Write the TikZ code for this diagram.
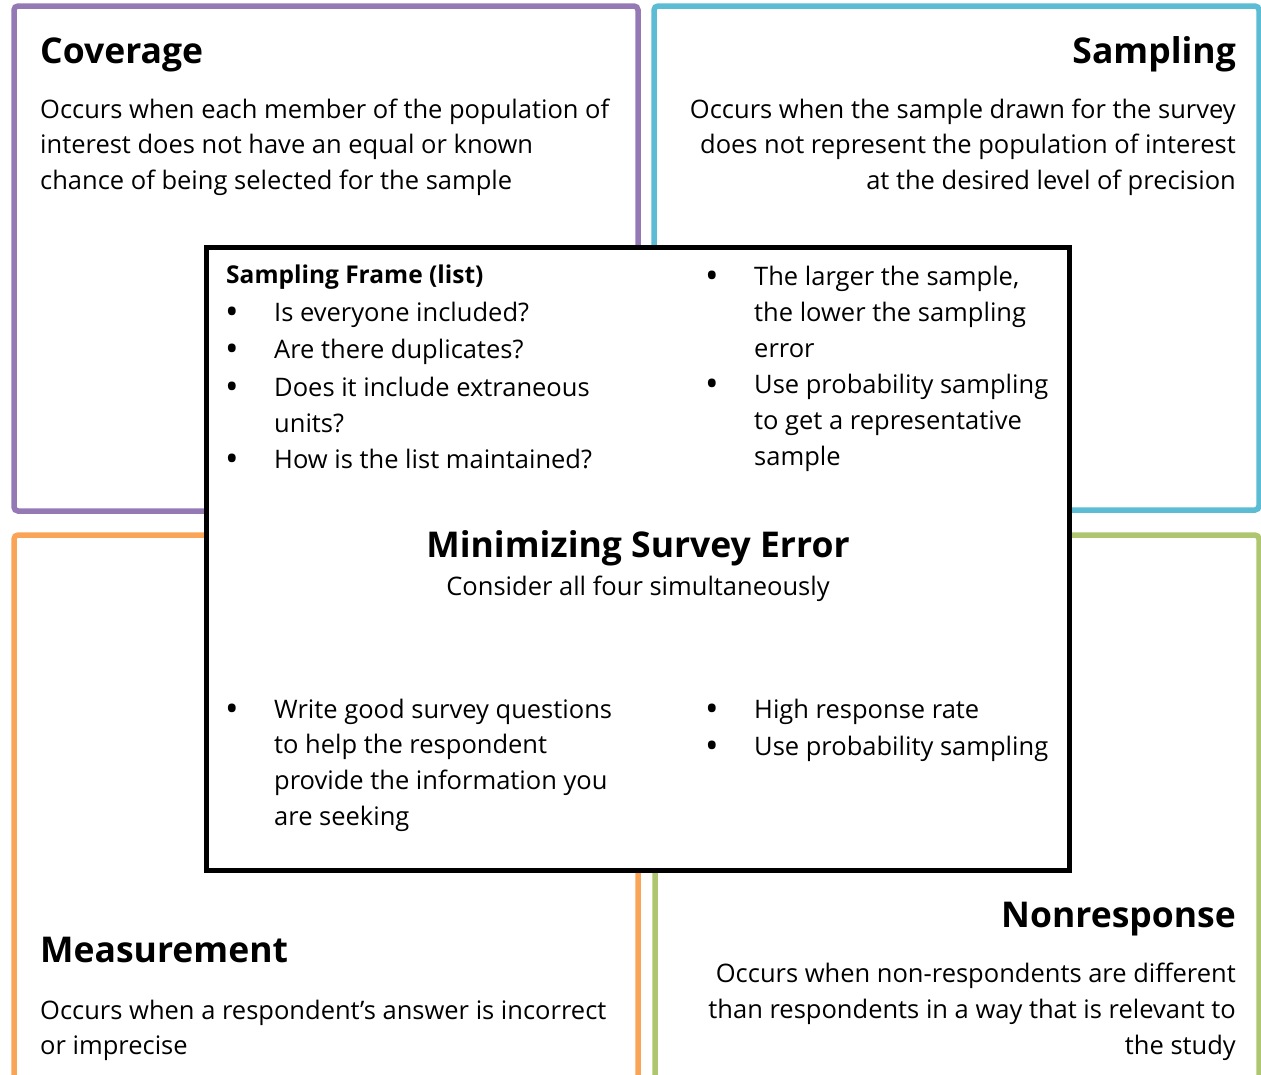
\documentclass[tikz,border=0pt]{standalone}
\usepackage{fontspec}
\setmainfont{Open Sans}
\usetikzlibrary{positioning}
\definecolor{covpurple}{HTML}{9479B5}
\definecolor{smpblue}{HTML}{5BBCD3}
\definecolor{msrorange}{HTML}{F9A456}
\definecolor{nrsgreen}{HTML}{ADC66F}
\tikzset{
  errbox/.style={line width=5.5pt, rounded corners=4pt},
  headtxt/.style={font=\fontsize{35.5}{40}\selectfont\bfseries, inner sep=0pt},
  bodytxt/.style={font=\fontsize{25.5}{36}\selectfont, inner sep=0pt},
  dottxt/.style={font=\fontsize{36}{36}\selectfont, inner sep=0pt, anchor=base, yshift=-3.5pt}
}
\begin{document}
\begin{tikzpicture}[x=1pt, y=-1pt]
  \useasboundingbox (0,0) rectangle (1261,1074);
  \clip (0,0) rectangle (1261,1074);
  % the four error boxes
  \draw[errbox, covpurple] (14,6) rectangle (638,511);
  \draw[errbox, smpblue] (654,6) rectangle (1259,510);
  \draw[errbox, msrorange] (14,535) rectangle (638,1090);
  \draw[errbox, nrsgreen] (655,535) rectangle (1259,1090);
  % corner texts
  \node[headtxt, anchor=base west] (coverage) at (40,63) {Coverage};
  \foreach \txt [count=\i] in {Occurs when each member of the population of, interest does not have an equal or known, chance of being selected for the sample}
    \node[bodytxt, anchor=base west] (cov\i) at (40,82.5+35.5*\i) {\txt};
  \node[headtxt, anchor=base east] (sampling) at (1236,63) {Sampling};
  \foreach \txt [count=\i] in {Occurs when the sample drawn for the survey, does not represent the population of interest, at the desired level of precision}
    \node[bodytxt, anchor=base east] (smp\i) at (1236,82.5+35.5*\i) {\txt};
  \node[headtxt, anchor=base west] (measurement) at (40,962) {Measurement};
  \node[bodytxt, anchor=base west] (msr1) at (40,1019) {Occurs when a respondent’s answer is incorrect};
  \node[bodytxt, anchor=base west] (msr2) at (40,1054) {or imprecise};
  \node[headtxt, anchor=base east] (nonresponse) at (1236,927) {Nonresponse};
  \foreach \txt [count=\i] in {Occurs when non-respondents are different, than respondents in a way that is relevant to, the study}
    \node[bodytxt, anchor=base east] (nrs\i) at (1236,946+36*\i) {\txt};
  % centre box
  \draw[line width=5pt, fill=white] (206,247) rectangle (1069,870);
  \node[bodytxt, font=\fontsize{24.5}{36}\selectfont\bfseries, anchor=base west] (frame) at (226,283) {Sampling Frame (list)};
  \foreach \y in {321,358,396,468}
    \node[dottxt] (fdot\y) at (232,\y) {•};
  \foreach \y/\txt in {321/Is everyone included?, 358/Are there duplicates?, 396/Does it include extraneous, 432/units?, 468/How is the list maintained?}
    \node[bodytxt, anchor=base west] (frame\y) at (274,\y) {\txt};
  \foreach \y in {285,393}
    \node[dottxt] (sdot\y) at (712,\y) {•};
  \foreach \y/\txt in {285/{The larger the sample,}, 321/the lower the sampling, 357/error, 393/Use probability sampling, 429/to get a representative, 465/sample}
    \node[bodytxt, anchor=base west] (size\y) at (754,\y) {\txt};
  \node[headtxt, anchor=base] (mse) at (638,557) {Minimizing Survey Error};
  \node[bodytxt, anchor=base] (four) at (638,595) {Consider all four simultaneously};
  \node[dottxt] (mdot) at (232,718) {•};
  \foreach \y/\txt in {718/Write good survey questions, 753/to help the respondent, 789/provide the information you, 825/are seeking}
    \node[bodytxt, anchor=base west] (ask\y) at (274,\y) {\txt};
  \foreach \y in {718,755}
    \node[dottxt] (rdot\y) at (712,\y) {•};
  \node[bodytxt, anchor=base west] (rate) at (754,718) {High response rate};
  \node[bodytxt, anchor=base west] (prob) at (754,755) {Use probability sampling};
\end{tikzpicture}
\end{document}
